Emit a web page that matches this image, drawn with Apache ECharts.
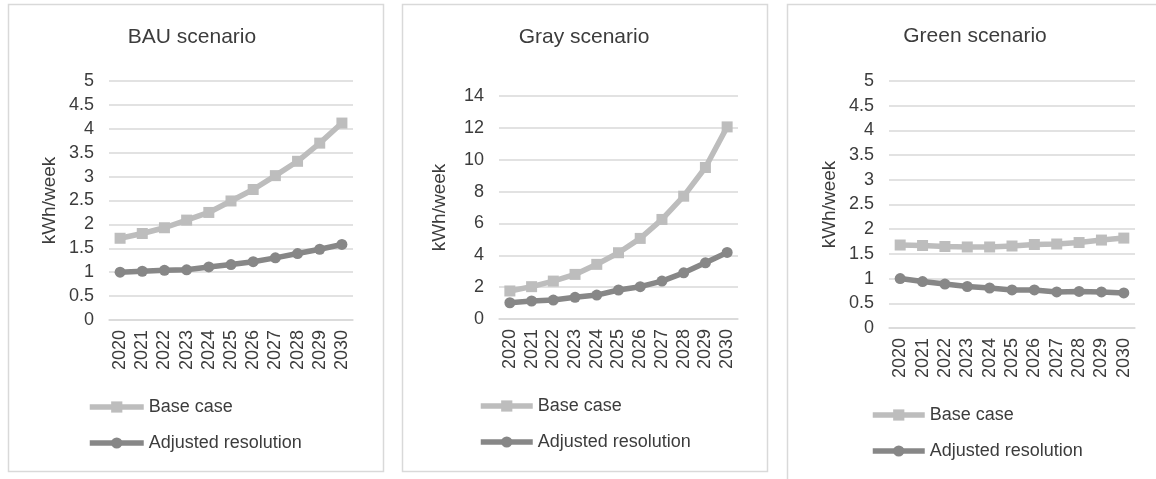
<!DOCTYPE html>
<html>
<head>
<meta charset="utf-8">
<script src="https://cdn.jsdelivr.net/npm/echarts@6/dist/echarts.min.js"></script>
<style>
html,body{margin:0;padding:0;background:#fff;}
#chart{width:1156px;height:479px;}
</style>
</head>
<body>
<div id="chart"></div>
<script>
const years = ['2020','2021','2022','2023','2024','2025','2026','2027','2028','2029','2030'];
const titles = ['BAU scenario', 'Gray scenario', 'Green scenario'];
const seriesNames = ['Base case', 'Adjusted resolution'];
const yAxisName = 'kWh/week';

const bauBase = [1.71, 1.81, 1.93, 2.09, 2.25, 2.49, 2.73, 3.02, 3.32, 3.70, 4.12];
const bauAdjusted = [1.00, 1.02, 1.04, 1.05, 1.11, 1.16, 1.22, 1.30, 1.39, 1.48, 1.58];
const grayBase = [1.76, 2.03, 2.38, 2.80, 3.43, 4.16, 5.06, 6.25, 7.71, 9.51, 12.06];
const grayAdjusted = [1.02, 1.13, 1.19, 1.36, 1.50, 1.82, 2.03, 2.38, 2.90, 3.53, 4.18];
const greenBase = [1.68, 1.67, 1.65, 1.64, 1.64, 1.66, 1.69, 1.70, 1.73, 1.78, 1.82];
const greenAdjusted = [1.00, 0.94, 0.89, 0.84, 0.81, 0.77, 0.77, 0.73, 0.74, 0.73, 0.71];

const yMax = [5, 14, 5];
const yInterval = [0.5, 2, 0.5];

const FONT = '"Liberation Sans", Arial, sans-serif';
const TXT = '#3c3c3c';
const BASE_COLOR = '#bdbdbd';
const ADJ_COLOR = '#878787';
const GRID_COLOR = '#d9d9d9';

const panels = [
  {border:[8,4,375,467], grid:{left:109, top:81, width:244, bottom:159}, titleX:192, titleY:37, legend:{left:87, top:398, itemWidth:54}, base:bauBase, adj:bauAdjusted},
  {border:[402,4,365,467], grid:{left:499, top:96, width:239, bottom:160}, titleX:584, titleY:37, legend:{left:478, top:397, itemWidth:52}, base:grayBase, adj:grayAdjusted},
  {border:[787,4,400,500], grid:{left:889, top:81, width:246, bottom:151}, titleX:975, titleY:36, legend:{left:870, top:406, itemWidth:52}, base:greenBase, adj:greenAdjusted}
];

const grids = [], xAxes = [], yAxes = [], series = [], legends = [], graphics = [];

panels.forEach((p, i) => {
  graphics.push({type:'rect', silent:true, z:-1, shape:{x:p.border[0]+0.5, y:p.border[1]+0.5, width:p.border[2], height:p.border[3]},
    style:{fill:'#fff', stroke:'#d9d9d9', lineWidth:1.5}});
  graphics.push({type:'text', silent:true, x:p.titleX, y:p.titleY,
    style:{text:titles[i], font:'21px ' + FONT, fill:TXT, textAlign:'center', textVerticalAlign:'middle'}});
  grids.push(Object.assign({containLabel:false}, p.grid));
  xAxes.push({type:'category', gridIndex:i, data:years, boundaryGap:true,
    axisLine:{show:true, lineStyle:{color:GRID_COLOR, width:1.5}}, axisTick:{show:false},
    axisLabel:{rotate:90, margin:10, color:TXT, fontSize:18, fontFamily:FONT, interval:0}});
  yAxes.push({type:'value', gridIndex:i, min:0, max:yMax[i], interval:yInterval[i],
    name:yAxisName, nameLocation:'middle', nameRotate:90, nameGap:50,
    nameTextStyle:{color:TXT, fontSize:19, fontFamily:FONT},
    axisLine:{show:false}, axisTick:{show:false},
    axisLabel:{margin:15, color:TXT, fontSize:18, fontFamily:FONT},
    splitLine:{lineStyle:{color:GRID_COLOR, width:1.5}}});
  series.push({name:seriesNames[0], type:'line', xAxisIndex:i, yAxisIndex:i, data:p.base,
    symbol:'rect', symbolSize:11, showAllSymbol:true, color:BASE_COLOR,
    lineStyle:{width:5.5, color:BASE_COLOR}, itemStyle:{color:BASE_COLOR}});
  series.push({name:seriesNames[1], type:'line', xAxisIndex:i, yAxisIndex:i, data:p.adj,
    symbol:'circle', symbolSize:11, showAllSymbol:true, color:ADJ_COLOR,
    lineStyle:{width:5.5, color:ADJ_COLOR}, itemStyle:{color:ADJ_COLOR}});
  legends.push({orient:'vertical', left:p.legend.left, top:p.legend.top, itemWidth:p.legend.itemWidth, itemHeight:14,
    itemGap:18, selectedMode:false, padding:0,
    lineStyle:{width:5.5},
    textStyle:{color:TXT, fontSize:18, fontFamily:FONT, lineHeight:18},
    data:seriesNames.map(n => ({name:n}))
  });
});

const chart = echarts.init(document.getElementById('chart'), null, {renderer:'canvas'});
chart.setOption({
  animation:false,
  backgroundColor:'#fff',
  graphic:graphics,
  grid:grids,
  xAxis:xAxes,
  yAxis:yAxes,
  legend:legends,
  series:series
});
</script>
</body>
</html>
